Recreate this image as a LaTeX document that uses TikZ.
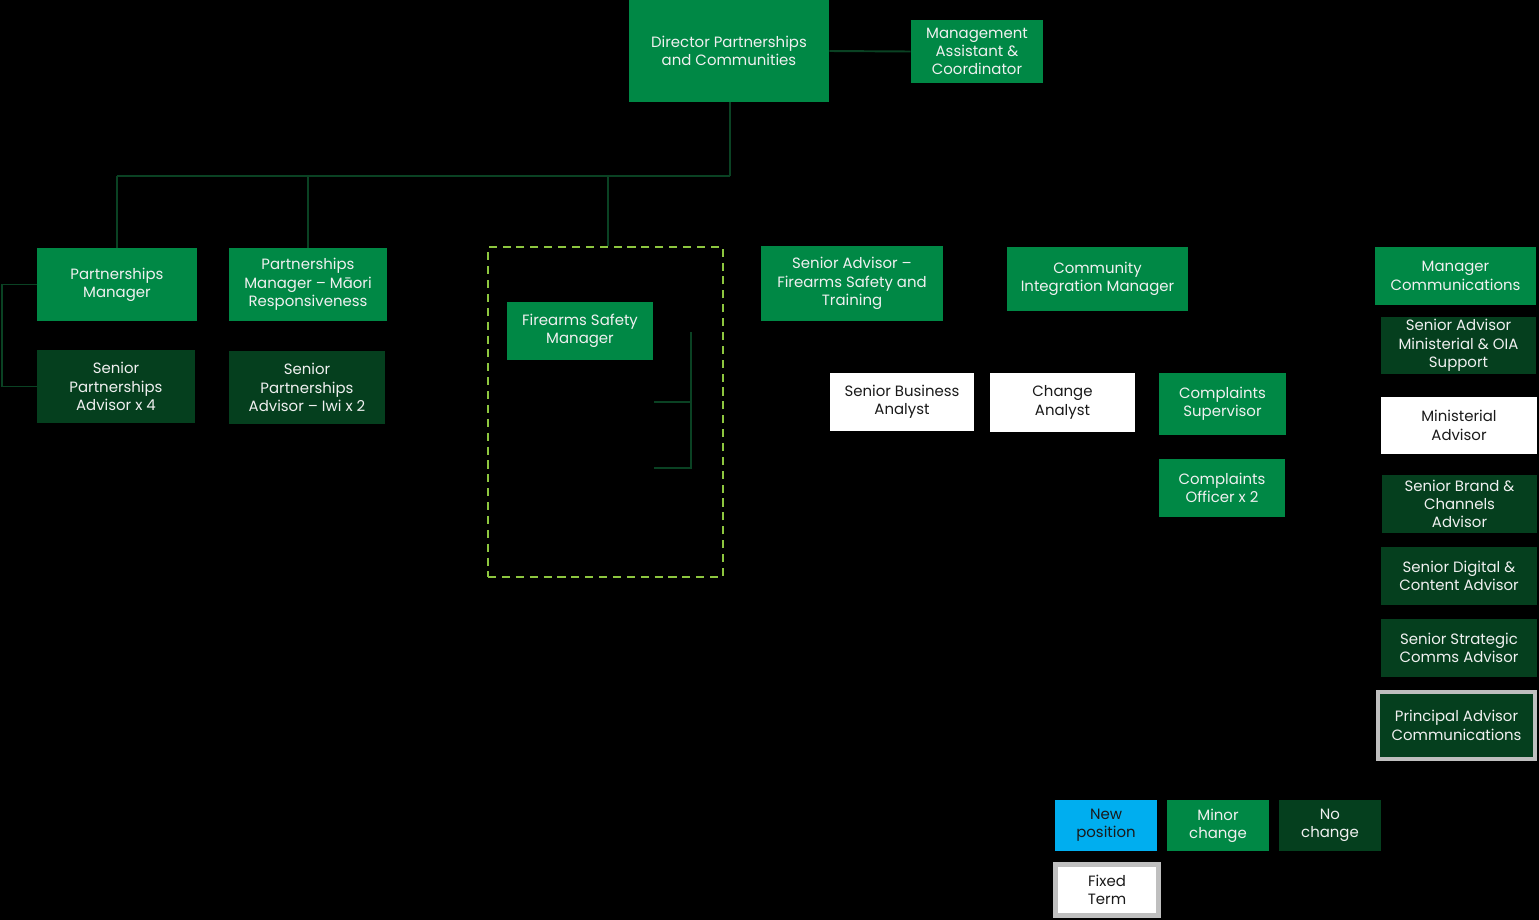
\documentclass[tikz,border=0pt]{standalone}
\usepackage{fontspec}
\setmainfont{Poppins}
\usetikzlibrary{calc}

\definecolor{minorgreen}{HTML}{008845}
\definecolor{nogreen}{HTML}{053F1E}
\definecolor{newblue}{HTML}{00AEEF}
\definecolor{linkgreen}{HTML}{0A4223}
\definecolor{teamlime}{HTML}{8DC63F}
\definecolor{termgrey}{HTML}{BFBFBF}
\definecolor{lighttext}{HTML}{F0F0F0}
\definecolor{darktext}{HTML}{1A1A1A}

\tikzset{
  role/.style={rectangle, inner sep=0pt, align=center,
    font=\fontsize{8.5}{10.4}\selectfont},
  minor/.style={role, fill=minorgreen, text=lighttext},
  nochg/.style={role, fill=nogreen, text=lighttext},
  newpos/.style={role, fill=newblue, text=darktext},
  plain/.style={role, fill=white, text=darktext},
  fixterm/.style={draw=termgrey, line width=2.3pt},
  link/.style={draw=linkgreen, line width=1.1pt},
  drop/.style={draw=linkgreen, line width=0.7pt}
}

\begin{document}
\begin{tikzpicture}[x=0.02cm, y=-0.02cm]
    \useasboundingbox[fill=black] (0,0) rectangle (1539,920);

    % top
    \node[minor, minimum width=4cm, minimum height=2.04cm] (dir) at (729,51) {Director Partnerships\\and Communities};
    \node[minor, minimum width=2.64cm, minimum height=1.26cm] (asst) at (977,51.5) {Management\\Assistant \&\\Coordinator};

    % partnerships
    \node[minor, minimum width=3.2cm, minimum height=1.46cm] (pmgr) at (117,284.5) {Partnerships\\Manager};
    \node[minor, minimum width=3.16cm, minimum height=1.46cm] (pmaori) at (308,284.5) {Partnerships\\Manager – Māori\\Responsiveness};
    \node[nochg, minimum width=3.16cm, minimum height=1.46cm] (spafour) at (116,386.5) {Senior\\Partnerships\\Advisor x 4};
    \node[nochg, minimum width=3.12cm, minimum height=1.46cm] (spaiwi) at (307,387.5) {Senior\\Partnerships\\Advisor – Iwi x 2};

    % firearms safety team
    \node[draw=teamlime, line width=1.1pt, dash pattern=on 4.6pt off 3.3pt, minimum width=4.7cm, minimum height=6.6cm] (fsteam) at (605.5,412) {};
    \node[minor, minimum width=2.92cm, minimum height=1.16cm] (fsm) at (580,331) {Firearms Safety\\Manager};
    \coordinate (spine) at (691,332);
    \coordinate (fsa) at (654,402);
    \coordinate (fsb) at (654,468);

    % other direct reports
    \node[minor, minimum width=3.64cm, minimum height=1.5cm] (safst) at (852,283.5) {Senior Advisor –\\Firearms Safety and\\Training};
    \node[minor, minimum width=3.62cm, minimum height=1.28cm] (cim) at (1097.5,279) {Community\\Integration Manager};
    \node[plain, minimum width=2.88cm, minimum height=1.16cm] (sba) at (902,402) {Senior Business\\Analyst};
    \node[plain, minimum width=2.9cm, minimum height=1.18cm] (chg) at (1062.5,402.5) {Change\\Analyst};
    \node[minor, minimum width=2.54cm, minimum height=1.24cm] (csup) at (1222.5,404) {Complaints\\Supervisor};
    \node[minor, minimum width=2.52cm, minimum height=1.16cm] (coff) at (1222,488) {Complaints\\Officer x 2};

    % communications
    \node[minor, minimum width=3.22cm, minimum height=1.16cm] (mcomm) at (1455.5,276) {Manager\\Communications};
    \node[nochg, minimum width=3.1cm, minimum height=1.14cm] (samo) at (1458.5,345.5) {Senior Advisor\\Ministerial \& OIA\\Support};
    \node[plain, minimum width=3.12cm, minimum height=1.14cm] (madv) at (1459,425.5) {Ministerial\\Advisor};
    \node[nochg, minimum width=3.1cm, minimum height=1.16cm] (sbca) at (1459.5,504) {Senior Brand \&\\Channels\\Advisor};
    \node[nochg, minimum width=3.12cm, minimum height=1.16cm] (sdca) at (1459,576) {Senior Digital \&\\Content Advisor};
    \node[nochg, minimum width=3.12cm, minimum height=1.16cm] (ssca) at (1459,648) {Senior Strategic\\Comms Advisor};
    \node[nochg, fixterm, minimum width=3.14cm, minimum height=1.34cm] (pac) at (1456.5,725.5) {Principal Advisor\\Communications};

    % legend
    \node[newpos, minimum width=2.04cm, minimum height=1.02cm] (lnew) at (1106,825.5) {New\\position};
    \node[minor, minimum width=2.04cm, minimum height=1.02cm] (lminor) at (1218,825.5) {Minor\\change};
    \node[nochg, minimum width=2.04cm, minimum height=1.02cm] (lnone) at (1330,825.5) {No\\change};
    \node[plain, fixterm, line width=2.8pt, minimum width=2.06cm, minimum height=1.02cm] (lfixed) at (1107,890) {Fixed\\Term};

    % lines
    \coordinate (bus) at (730,176);
    \draw[link] (dir.south -| bus) -- (bus);
    \draw[link] (bus) -- (bus -| pmgr.north);
    \draw[drop] (bus -| pmgr.north) -- (pmgr.north);
    \draw[drop] (bus) -| (pmaori.north);
    \draw[drop] (bus) -| ($(fsteam.north)+(2.5,0)$);
    \draw[link] (dir.east) -- (asst.west);
    \draw[link] (pmgr.west) -- ++(-35,0) |- (spafour.west);
    \draw[drop] (spine) |- (fsa);
    \draw[drop] (spine) |- (fsb);
\end{tikzpicture}
\end{document}
